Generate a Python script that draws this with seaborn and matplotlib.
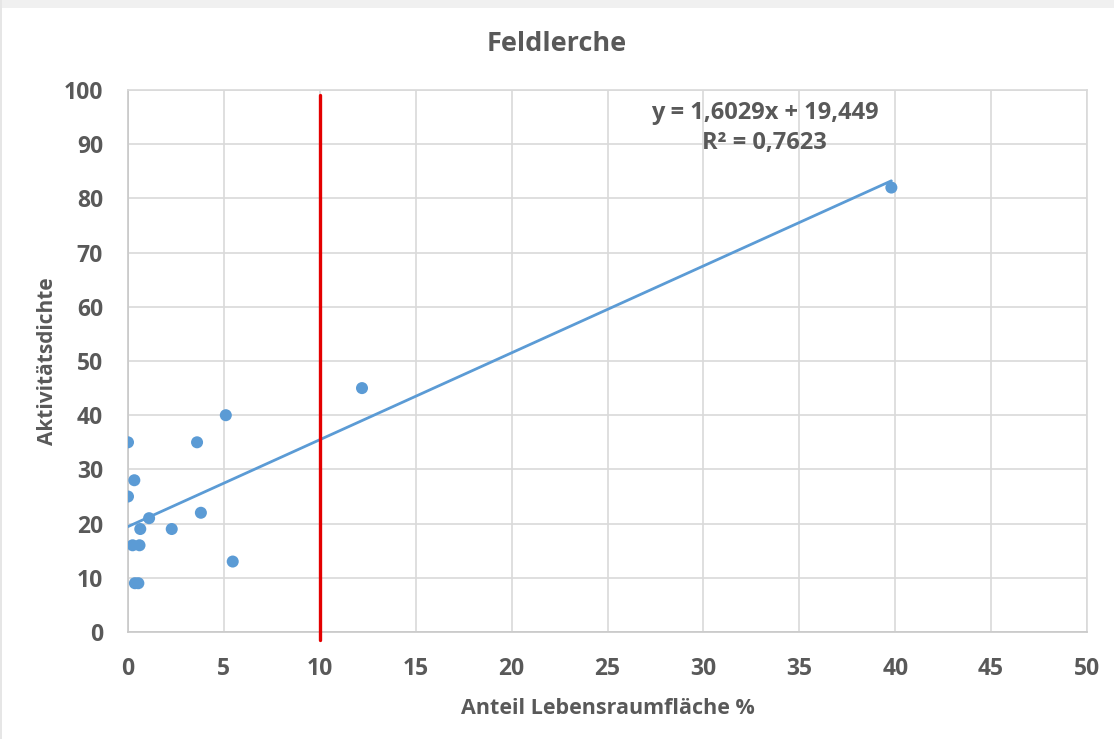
import numpy as np
import pandas as pd
import matplotlib
matplotlib.use("Agg")
import matplotlib.pyplot as plt
import seaborn as sns

# Share of habitat area (%) and activity density per survey site
habitat_share = [0.0, 3.6, 0.33, 0.0, 3.8, 1.1, 0.64, 2.28, 0.24, 0.6, 5.46, 0.36, 0.54, 5.1, 12.2, 39.8]
activity_density = [35, 35, 28, 25, 22, 21, 19, 19, 16, 16, 13, 9, 9, 40, 45, 82]

# Linear trend as reported
slope = 1.6029
intercept = 19.449
r_squared = 0.7623
trend_x = [0.0, 39.8]

threshold = 10

x_ticks = [0, 5, 10, 15, 20, 25, 30, 35, 40, 45, 50]
y_ticks = [0, 10, 20, 30, 40, 50, 60, 70, 80, 90, 100]

sns.set_theme(style="whitegrid")
plt.rcParams["font.family"] = ["Open Sans", "DejaVu Sans"]

TEXT = "#595959"
GRID = "#d9d9d9"
BLUE = "#5b9bd5"

fig = plt.figure(figsize=(11.14, 7.39), dpi=100, facecolor="white")
# window chrome strips
fig.patches.append(plt.Rectangle((0, 1 - 8 / 739), 1, 8 / 739, transform=fig.transFigure,
                                 facecolor="#f0f0f0", edgecolor="none", zorder=0))
fig.patches.append(plt.Rectangle((0, 0), 2 / 1114, 1, transform=fig.transFigure,
                                 facecolor="#e6e6e6", edgecolor="none", zorder=0))

ax = fig.add_axes([128 / 1114, 1 - 632 / 739, (1087 - 128) / 1114, (632 - 90) / 739])

df = pd.DataFrame({"x": habitat_share, "y": activity_density})
trend = pd.DataFrame({"x": trend_x, "y": [slope * v + intercept for v in trend_x]})

sns.lineplot(data=trend, x="x", y="y", ax=ax, color=BLUE, linewidth=2.0, zorder=3)
sns.scatterplot(data=df, x="x", y="y", ax=ax, color=BLUE, s=75, edgecolor="none", zorder=4)

ax.plot([threshold, threshold], [-1.5, 99], color="#e30000", linewidth=2.4, clip_on=False, zorder=5)

ax.set_xlim(0, 50)
ax.set_ylim(0, 100)
ax.set_xticks(x_ticks)
ax.set_yticks(y_ticks)
ax.set_xticklabels([str(v) for v in x_ticks], fontsize=16.5, fontweight="bold", color=TEXT)
ax.set_yticklabels([str(v) for v in y_ticks], fontsize=16.5, fontweight="bold", color=TEXT)
ax.tick_params(axis="both", length=0)
ax.tick_params(axis="x", pad=18)
ax.tick_params(axis="y", pad=18)

ax.grid(True, color=GRID, linewidth=1.2)
for side in ["left", "right", "top", "bottom"]:
    ax.spines[side].set_visible(True)
    ax.spines[side].set_color(GRID)
    ax.spines[side].set_linewidth(1.2)
ax.spines["left"].set_color("#c8c8c8")
ax.spines["bottom"].set_color("#c8c8c8")

ax.set_xlabel("Anteil Lebensraumfläche %", fontsize=15.5, fontweight="bold", color=TEXT, labelpad=12)
ax.set_ylabel("Aktivitätsdichte", fontsize=15, fontweight="bold", color=TEXT, labelpad=4)

fig.text(0.5, 1 - 44 / 739, "Feldlerche", ha="center", va="center",
         fontsize=19.5, fontweight="bold", color=TEXT)

eq = f"y = {slope:.4f}x + {intercept:.3f}".replace(".", ",")
r2 = f"R² = {r_squared:.4f}".replace(".", ",")
ax.text(33.2, 95.8, eq, ha="center", va="center", fontsize=17, fontweight="bold", color=TEXT, zorder=6)
ax.text(33.2, 90.2, r2, ha="center", va="center", fontsize=17, fontweight="bold", color=TEXT, zorder=6)

fig.savefig("out.png", dpi=100, facecolor="white")
